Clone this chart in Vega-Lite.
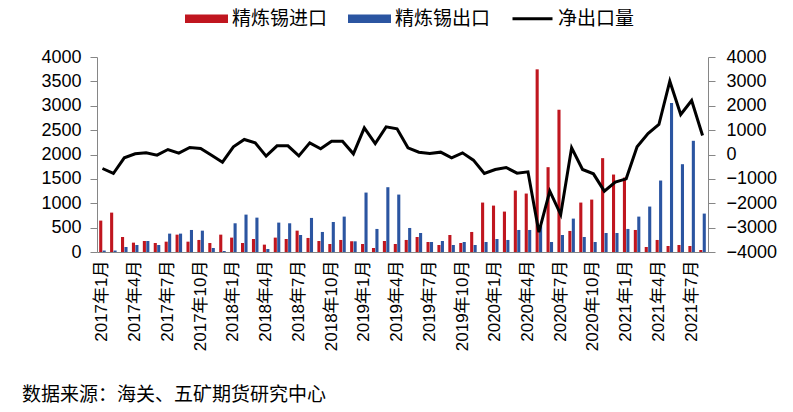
{
  "$schema": "https://vega.github.io/schema/vega-lite/v6.json",
  "width": 611,
  "height": 195,
  "autosize": {"type": "none"},
  "padding": {"left": 97, "top": 57, "right": 85, "bottom": 160},
  "background": "white",
  "config": {
    "view": {"stroke": null},
    "font": "Liberation Sans, Noto Sans CJK SC",
    "axis": {
      "grid": false,
      "domainColor": "#868686",
      "tickColor": "#868686",
      "labelColor": "#000000",
      "labelFont": "Liberation Sans, Noto Sans CJK SC",
      "title": null
    }
  },
  "title": {
    "text": "数据来源：海关、五矿期货研究中心",
    "orient": "bottom",
    "anchor": "start",
    "frame": "group",
    "fontSize": 19,
    "fontWeight": "normal",
    "font": "Noto Sans CJK SC",
    "color": "#000000",
    "dx": -75,
    "offset": 35
  },
  "data": {
    "values": [
      {"m": "2017-01", "imp": 644, "exp": 30, "net": -574},
      {"m": "2017-02", "imp": 808, "exp": 30, "net": -779},
      {"m": "2017-03", "imp": 308, "exp": 103, "net": -137},
      {"m": "2017-04", "imp": 192, "exp": 144, "net": 27},
      {"m": "2017-05", "imp": 226, "exp": 226, "net": 68},
      {"m": "2017-06", "imp": 185, "exp": 144, "net": -27},
      {"m": "2017-07", "imp": 212, "exp": 377, "net": 205},
      {"m": "2017-08", "imp": 356, "exp": 377, "net": 55},
      {"m": "2017-09", "imp": 212, "exp": 452, "net": 287},
      {"m": "2017-10", "imp": 247, "exp": 438, "net": 246},
      {"m": "2017-11", "imp": 185, "exp": 82, "net": -27},
      {"m": "2017-12", "imp": 356, "exp": 20, "net": -315},
      {"m": "2018-01", "imp": 295, "exp": 589, "net": 315},
      {"m": "2018-02", "imp": 185, "exp": 767, "net": 615},
      {"m": "2018-03", "imp": 267, "exp": 705, "net": 478},
      {"m": "2018-04", "imp": 151, "exp": 62, "net": -68},
      {"m": "2018-05", "imp": 295, "exp": 603, "net": 355},
      {"m": "2018-06", "imp": 267, "exp": 589, "net": 355},
      {"m": "2018-07", "imp": 438, "exp": 349, "net": -55},
      {"m": "2018-08", "imp": 288, "exp": 699, "net": 478},
      {"m": "2018-09", "imp": 226, "exp": 411, "net": 232},
      {"m": "2018-10", "imp": 164, "exp": 616, "net": 547},
      {"m": "2018-11", "imp": 247, "exp": 726, "net": 547},
      {"m": "2018-12", "imp": 219, "exp": 219, "net": 27},
      {"m": "2019-01", "imp": 164, "exp": 1219, "net": 1094},
      {"m": "2019-02", "imp": 82, "exp": 473, "net": 451},
      {"m": "2019-03", "imp": 226, "exp": 1329, "net": 1135},
      {"m": "2019-04", "imp": 164, "exp": 1178, "net": 1053},
      {"m": "2019-05", "imp": 247, "exp": 493, "net": 273},
      {"m": "2019-06", "imp": 308, "exp": 390, "net": 96},
      {"m": "2019-07", "imp": 205, "exp": 205, "net": 41},
      {"m": "2019-08", "imp": 144, "exp": 226, "net": 96},
      {"m": "2019-09", "imp": 349, "exp": 144, "net": -137},
      {"m": "2019-10", "imp": 185, "exp": 205, "net": 68},
      {"m": "2019-11", "imp": 411, "exp": 144, "net": -232},
      {"m": "2019-12", "imp": 1014, "exp": 205, "net": -779},
      {"m": "2020-01", "imp": 952, "exp": 267, "net": -615},
      {"m": "2020-02", "imp": 829, "exp": 247, "net": -533},
      {"m": "2020-03", "imp": 1260, "exp": 452, "net": -765},
      {"m": "2020-04", "imp": 1199, "exp": 452, "net": -711},
      {"m": "2020-05", "imp": 3747, "exp": 540, "net": -3186},
      {"m": "2020-06", "imp": 1740, "exp": 205, "net": -1504},
      {"m": "2020-07", "imp": 2918, "exp": 349, "net": -2462},
      {"m": "2020-08", "imp": 432, "exp": 685, "net": 273},
      {"m": "2020-09", "imp": 1014, "exp": 308, "net": -615},
      {"m": "2020-10", "imp": 1075, "exp": 205, "net": -793},
      {"m": "2020-11", "imp": 1925, "exp": 390, "net": -1504},
      {"m": "2020-12", "imp": 1589, "exp": 390, "net": -1135},
      {"m": "2021-01", "imp": 1527, "exp": 473, "net": -998},
      {"m": "2021-02", "imp": 452, "exp": 726, "net": 315},
      {"m": "2021-03", "imp": 103, "exp": 932, "net": 862},
      {"m": "2021-04", "imp": 247, "exp": 1466, "net": 1231},
      {"m": "2021-05", "imp": 123, "exp": 3055, "net": 3008},
      {"m": "2021-06", "imp": 144, "exp": 1801, "net": 1641},
      {"m": "2021-07", "imp": 123, "exp": 2281, "net": 2216},
      {"m": "2021-08", "imp": 41, "exp": 788, "net": 780}
    ]
  },
  "layer": [
    {
      "transform": [{"fold": ["imp", "exp"], "as": ["key", "v"]}],
      "mark": {"type": "bar"},
      "encoding": {
        "x": {
          "field": "m",
          "type": "ordinal",
          "scale": {"paddingInner": 0.4, "paddingOuter": 0.2},
          "axis": {
            "values": ["2017-01","2017-04","2017-07","2017-10","2018-01","2018-04","2018-07","2018-10","2019-01","2019-04","2019-07","2019-10","2020-01","2020-04","2020-07","2020-10","2021-01","2021-04","2021-07"],
            "labelExpr": "substring(datum.value,0,4) + '年' + toNumber(substring(datum.value,5,7)) + '月'",
            "labelAngle": -90,
            "labelFontSize": 17,
            "labelPadding": 8,
            "ticks": false
          }
        },
        "xOffset": {"field": "key", "scale": {"domain": ["imp", "exp"], "paddingInner": 0.1}},
        "y": {
          "field": "v",
          "type": "quantitative",
          "scale": {"domain": [0, 4000], "nice": false},
          "axis": {
            "orient": "left",
            "values": [0, 500, 1000, 1500, 2000, 2500, 3000, 3500, 4000],
            "format": "d",
            "labelFontSize": 18,
            "tickSize": 7,
            "labelPadding": 9
          }
        },
        "color": {
          "field": "key",
          "type": "nominal",
          "scale": {"domain": ["imp", "exp", "net"], "range": ["#C0161F", "#2B55A1", "#000000"]},
          "legend": {
            "orient": "none",
            "direction": "horizontal",
            "legendX": 88,
            "legendY": -60,
            "title": null,
            "symbolSize": 1600,
            "labelFontSize": 19,
            "labelFont": "Noto Sans CJK SC",
            "labelColor": "#000000",
            "labelOffset": 4,
            "columnPadding": 15,
            "labelExpr": "datum.value == 'imp' ? '精炼锡进口' : datum.value == 'exp' ? '精炼锡出口' : '净出口量'",
            "symbolOpacity": 1,
            "encode": {
              "symbols": {
                "update": {
                  "shape": {"signal": "datum.value == 'net' ? 'M-1,0H1' : 'M-1,-0.14H1V0.14H-1Z'"},
                  "fill": {"signal": "datum.value == 'imp' ? '#C0161F' : datum.value == 'exp' ? '#2B55A1' : 'transparent'"},
                  "stroke": {"signal": "datum.value == 'net' ? '#000000' : 'transparent'"},
                  "strokeWidth": {"value": 3},
                  "opacity": {"value": 1}
                }
              }
            }
          }
        }
      }
    },
    {
      "mark": {"type": "line", "strokeWidth": 3, "strokeJoin": "miter"},
      "encoding": {
        "x": {"field": "m", "type": "ordinal"},
        "y": {
          "field": "net",
          "type": "quantitative",
          "scale": {"domain": [-4000, 4000], "nice": false},
          "axis": {
            "orient": "right",
            "values": [-4000, -3000, -2000, -1000, 0, 1000, 2000, 3000, 4000],
            "format": "d",
            "labelFontSize": 18,
            "tickSize": 7,
            "labelPadding": 11
          }
        },
        "color": {"datum": "net", "type": "nominal"}
      }
    }
  ],
  "resolve": {"scale": {"y": "independent"}}
}
